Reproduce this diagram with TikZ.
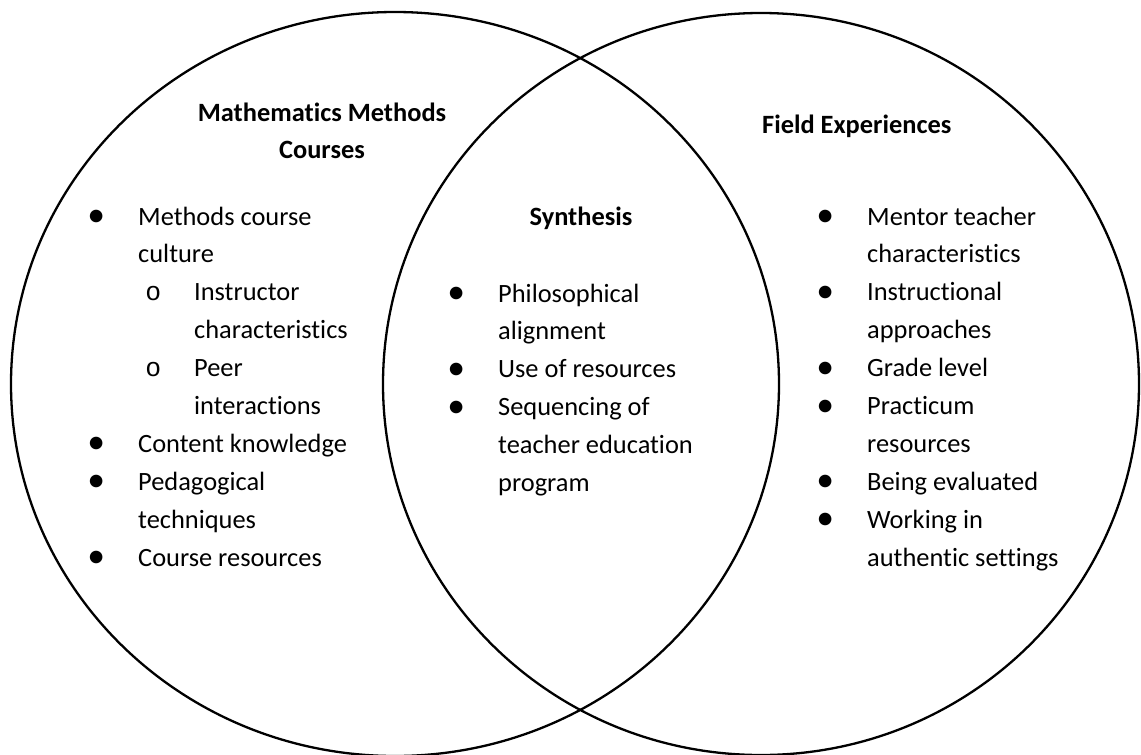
\documentclass[tikz,border=0pt]{standalone}
\usepackage{fontspec}
\setmainfont{Carlito}[Ligatures=CommonOff]
\newfontfamily\ringfont{Liberation Mono}
% list marks, hung to the left of the item text
\newcommand{\bul}{\llap{\makebox[84pt]{\raisebox{-1.5pt}{\scalebox{1.35}{\textbullet}}}}}
\newcommand{\subbul}{\hspace*{56pt}\llap{\makebox[82pt]{\ringfont o}}}

\begin{document}
\begin{tikzpicture}[x=1pt,y=-1pt,
  set/.style={draw=black,line width=2.3pt},
  txt/.style={inner sep=0pt,anchor=base west,font=\fontsize{26.4}{37.9}\selectfont},
  head/.style={inner sep=0pt,anchor=base,font=\fontsize{26.4}{37}\selectfont\bfseries}]
\useasboundingbox (0,0) rectangle (1141,755);
% the two overlapping sets
\draw[set] (395,384) ellipse [x radius=384pt,y radius=372pt];
\draw[set] (761,384) ellipse [x radius=378pt,y radius=371pt];

% headings
\node[head] (methodshead) at (322,121) {\begin{tabular}[t]{@{}c@{}}Mathematics Methods\\Courses\end{tabular}};
\node[head] (synthhead) at (581,225) {Synthesis};
\node[head,anchor=base west] (fieldhead) at (762,133) {Field Experiences};

% items
\node[txt] (methodslist) at (138,225) {\begin{tabular}[t]{@{}l@{}}
\bul Methods course\\
culture\\
\subbul Instructor\\
\hspace*{56pt}characteristics\\
\subbul Peer\\
\hspace*{56pt}interactions\\
\bul Content knowledge\\
\bul Pedagogical\\
techniques\\
\bul Course resources
\end{tabular}};
\node[txt] (synthlist) at (498,302) {\begin{tabular}[t]{@{}l@{}}
\bul Philosophical\\
alignment\\
\bul Use of resources\\
\bul Sequencing of\\
teacher education\\
program
\end{tabular}};
\node[txt] (fieldlist) at (867,225) {\begin{tabular}[t]{@{}l@{}}
\bul Mentor teacher\\
characteristics\\
\bul Instructional\\
approaches\\
\bul Grade level\\
\bul Practicum\\
resources\\
\bul Being evaluated\\
\bul Working in\\
authentic settings
\end{tabular}};
\end{tikzpicture}
\end{document}
